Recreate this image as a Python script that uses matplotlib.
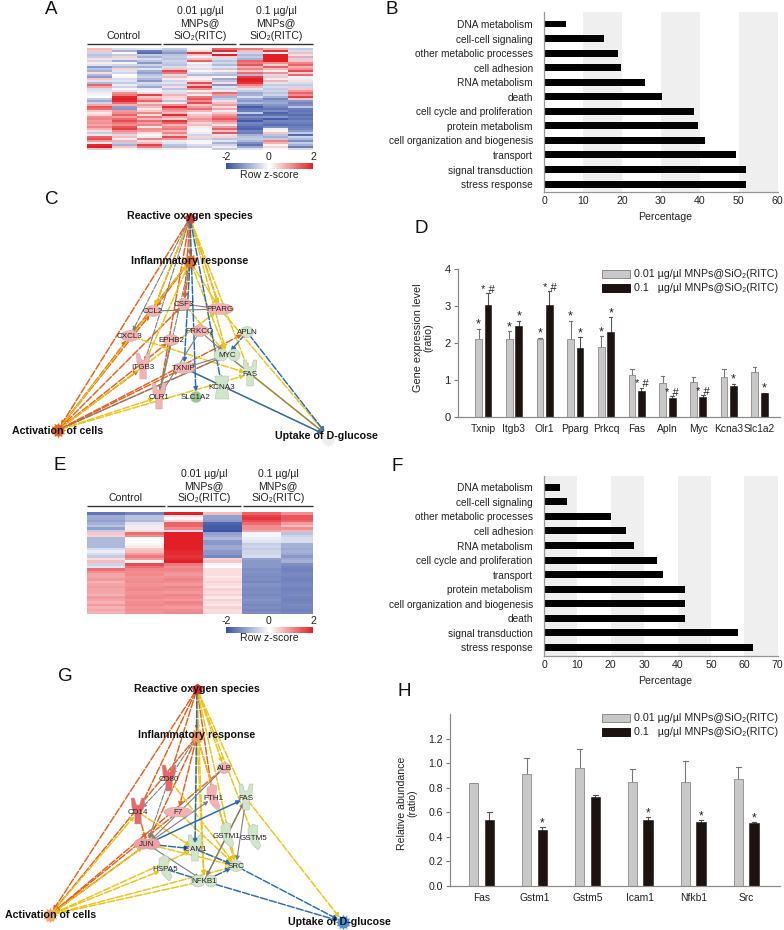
import numpy as np
import matplotlib
matplotlib.use('Agg')
import matplotlib.pyplot as plt
from matplotlib.colors import LinearSegmentedColormap, Normalize
from matplotlib.colorbar import Colorbar
from matplotlib.patches import Ellipse, FancyArrowPatch, Rectangle, Polygon
from matplotlib.path import Path

plt.rcParams['font.family'] = ['Liberation Sans', 'DejaVu Sans']
W, H = 784, 930

# ---------- heat map A (rows top to bottom, one list per sample) ----------
a_c1 = [.6,.5,-.5,-.7,-.6,.3,-.5,.2,-.3,-1.2,-.7,-.9,.3,-.8,-1.2,.5,-.3,-.8,1.4,.8,-.4,-.3,-.2,-.1,0,-.6,-1,-.5,.8,1.5,1.3,.5,.2,.4,1,1.1,.9,1,.8,1.1,.7,.3,-.6,.2,1.4,1.6,.9,.2,1.9,2,.5]
a_c2 = [-.4,-.9,.1,-.6,.4,-.3,-1,-.1,-.5,-.8,.4,-.3,-.5,0,.1,-.4,-.3,-.6,-.2,-.5,.1,-.3,1,1.2,1.9,2,1.9,1.3,.7,-1.1,-1.2,.9,1,1.4,.9,1.3,1.6,1.2,1,1.5,1.7,1,.8,-.4,.6,-.2,.7,-.6,-.9,.5,.1]
a_c3 = [-.3,-1.5,-1.7,-.6,-.9,-.4,-.7,-1.2,-.5,-.9,-.3,-.9,-1.1,-.7,-.5,-.8,-1.2,-.4,-.6,-1,-.2,-.1,.3,1.7,.5,.8,1.4,.4,.9,.6,.2,.5,1.1,.3,1.2,.6,1.3,.9,1.1,.2,1,.9,.3,.1,-.2,1.1,.3,.6,1.7,1.2,-.3]
a_c4 = [-.6,-.9,-1.2,-.7,-.6,-.7,-.5,-.6,-.7,-.4,.5,1.6,1.2,-.4,.6,.2,-.5,-.3,-.6,.3,-.7,-.3,-.4,.7,.4,.3,-.7,.2,1,1.9,1.2,.9,.6,1.9,.8,.4,1.8,1.4,.7,1,1.2,.7,1.1,.5,1.6,.9,.2,-.3,-.7,-.8,.2]
a_c5 = [.1,.3,1.8,.5,-.2,.6,1.4,.1,-.3,.2,-.4,.1,-.4,-.8,.2,-.1,.4,1.6,.6,1.8,1,.1,.7,-.2,1.2,1.5,1,1.6,.5,.9,1.3,.7,-.2,.5,.7,1,.8,.4,.6,.2,-.1,.1,-.2,-.5,.4,-.5,-.1,.1,-.4,-.6,0]
a_c6 = [1.4,1.9,-.2,2,.4,-.4,-.7,-.5,-.8,-.3,-.6,.2,-.6,-.8,.1,-1,-.7,.3,-1.2,-.3,-.5,.2,1.3,.9,-.9,-.6,-.3,.6,.9,.3,.8,-.2,.5,.9,1.2,1.5,1.1,.7,.2,.9,1.4,.5,1.5,-.3,.4,-.7,-.3,-.9,-.5,.2,-.6]
a_c7 = [1.2,.6,-.5,-.8,-.6,-.9,1.4,1.2,1.5,.7,1.1,.5,1.3,-.8,1.7,2,2,1.8,1.1,.7,-.3,-.6,-1,-.9,-.4,-1,-1.2,-.8,-1.4,-1.9,-1.6,-1.5,-.6,-1.7,-1.3,-1.6,-1.9,-1.4,-1.5,-1.7,-1.8,-1.4,-1.5,-.9,-.7,-.6,-.8,-1.3,-1.6,-1,-.3]
a_c8 = [.8,1.8,-.2,2,2,2,2,1,.4,1.4,.6,.2,1,-.4,.5,-.2,.7,-.3,-.6,-.4,-.6,-.5,-.7,-.5,-.9,-1.4,-1.1,-1,-1.2,-1.4,-1.6,-1.3,-1.8,-1.6,-1.2,-1.9,-1.4,-1.5,-1.7,-1.3,-.2,.1,.5,-.7,-.9,-.6,1.1,.7,.1,.4,-.1]
a_c9 = [-.6,-.4,.6,-.3,.8,-.5,.5,1.1,1.4,.7,1,1.6,.4,1.3,-.1,-.2,.3,-.4,-.6,-.5,.5,.9,1.4,1,1.7,.5,-1.2,-1.4,-1.3,-.7,-1.5,-1.6,-1.5,-1.7,-1.5,-1.6,-1.4,-1.5,-1.6,-1.5,-1.4,-1.2,-.6,-1.7,-.5,-.8,-1.3,-.6,-.9,-1.5,-.4]

# ---------- heat map E ----------
e_c1 = [-1.6,-1,-1,-1.1,-.9,-.7,-1.1,-.6,.5,.4,-.8,-.8,-.8,-.8,-.4,-.2,-.4,-.6,.3,.6,-.5,-.3,1.3,1.0,.8,.8,.9,.7,.8,.9,.8,.8,.7,.9,.8,.7,.9,.7,.8,.7]
e_c2 = [-1.4,-.7,-.7,-.8,-.3,.2,-.2,.3,1.3,1.0,.0,0,.1,.2,.5,.6,.9,1.2,.9,.1,1.6,1.3,1.1,1,1.05,.95,1,1.05,.95,1,1.05,.95,1,1.05,.95,1,1.05,.95,1,.95]
e_c3 = [2,.3,-.1,.4,1.4,1.4,1.1,-.4,2,2,2,2,2,2,2,1.9,1.9,1.8,1.9,2,1.2,1,1.1,1,.9,1,1.1,1,.9,1.1,1,.9,1.1,1,.9,1.1,1,.9,1,1.05]
e_c4 = [.6,-1.1,-1.1,-1.2,-1.8,-1.9,-1.9,-2,-1.1,-1,-.8,-1.2,-1.2,-1,-1,-1.2,-1.2,-1.4,.4,.5,-.1,0,.3,.3,.3,.2,.3,.4,.3,.2,.4,.3,.4,.2,.4,.3,.2,.4,.3,.3]
e_c5 = [1.4,1.7,1.8,1.6,1.3,1,1,.8,-.1,-.1,-.2,-.3,-.6,-.5,-.6,-.5,-.5,-.4,-1.1,-1.2,-1.2,-1.2,-1.3,-1.25,-1.3,-1.35,-1.3,-1.4,-1.25,-1.3,-1.35,-1.3,-1.4,-1.3,-1.25,-1.3,-1.4,-1.3,-1.4,-1.3]
e_c6 = [1.0,1.5,1.5,1.4,.9,.6,1,.7,-.7,-.5,-.4,-.4,-.9,-.9,-1,-.9,-1,-1.2,-1,-.9,-1.3,-1.4,-1.45,-1.4,-1.35,-1.4,-1.45,-1.4,-1.35,-1.4,-1.45,-1.4,-1.35,-1.4,-1.45,-1.4,-1.35,-1.4,-1.45,-1.4]

# ---------- bar panels ----------
b_terms = ['DNA metabolism','cell-cell signaling','other metabolic processes','cell adhesion','RNA metabolism','death','cell cycle and proliferation','protein metabolism','cell organization and biogenesis','transport','signal transduction','stress response']
b_vals = [5.7,15.4,19.1,19.8,25.9,30.4,38.4,39.6,41.3,49.4,51.9,51.9]
f_terms = ['DNA metabolism','cell-cell signaling','other metabolic processes','cell adhesion','RNA metabolism','cell cycle and proliferation','transport','protein metabolism','cell organization and biogenesis','death','signal transduction','stress response']
f_vals = [4.8,6.8,20.2,24.6,27,33.7,35.5,42.3,42.3,42.3,58.1,62.5]

d_genes = ['Txnip','Itgb3','Olr1','Pparg','Prkcq','Fas','Apln','Myc','Kcna3','Slc1a2']
d_low = [2.1,2.1,2.1,2.1,1.9,1.13,.92,.95,1.09,1.22]
d_low_top = [2.38,2.32,2.14,2.6,2.18,1.29,1.1,1.07,1.29,1.35]
d_high = [3.03,2.47,3.03,1.87,2.3,.7,.5,.53,.83,.65]
d_high_top = [3.35,2.6,3.4,2.16,2.7,.79,.56,.58,.89,.65]
d_low_sig = ['*','*','*','*','*','','','','','']
d_high_sig = ['*#','*','*#','*','*','*#','*#','*#','*','*']

h_genes = ['Fas','Gstm1','Gstm5','Icam1','Nfkb1','Src']
h_low = [.835,.91,.96,.845,.845,.87]
h_low_top = [.84,1.04,1.115,.95,1.02,.965]
h_high = [.54,.455,.725,.54,.52,.51]
h_high_top = [.6,.48,.74,.565,.535,.525]
h_high_sig = ['','*','','*','*','*']

legend_labels = ['0.01 µg/µl MNPs@SiO₂(RITC)', '0.1   µg/µl MNPs@SiO₂(RITC)']

# ---------- networks ----------
ORG, YEL, BLU, GRY = '#e8601c', '#ecc414', '#2a6cb8', '#7f7f7f'
PINK, RED, GRN = '#f5b1b1', '#e8686a', '#cfe6c8'
c_nodes = {'ROS':(190,218),'INF':(190,261),'ACT':(58,430),'UPT':(328,436),'CSF3':(184,304),'PPARG':(220,309),'CCL2':(153,311),'CXCL3':(130,336),'PRKCQ':(200,331),'EPHB2':(171,340),'APLN':(247,332),'MYC':(227,355),'ITGB3':(143,367),'TXNIP':(184,368),'FAS':(250,374),'KCNA3':(222,387),'OLR1':(159,397),'SLC1A2':(196,397)}
c_org = ['ROS ACT','ROS INF','ROS CSF3','ROS CCL2','ROS PPARG','ROS OLR1','INF CXCL3','INF CCL2','INF CSF3','ACT CCL2','ACT CXCL3','ACT CSF3','ACT EPHB2','ACT MYC','ACT APLN','ACT TXNIP','ACT ITGB3']
c_yel = ['ROS CCL2','ROS PPARG','ROS FAS','ROS MYC','INF ITGB3','INF PPARG','INF MYC','ACT INF','ACT PPARG','ACT FAS','ACT OLR1','CXCL3 FAS','CSF3 MYC','TXNIP UPT','MYC UPT','PPARG UPT','FAS UPT']
c_blu = ['ROS SLC1A2','ROS KCNA3','APLN UPT','APLN MYC','INF TXNIP']
c_blu_solid = ['TXNIP UPT']
c_gry = ['ROS CXCL3','ROS ITGB3','INF OLR1','ACT MYC']
c_gry_solid = ['CCL2 PPARG','CSF3 PPARG','EPHB2 OLR1','PRKCQ OLR1','MYC TXNIP','MYC UPT','PRKCQ MYC']

g_nodes = {'ROS':(197,689),'INF':(197,736),'ACT':(50,915),'UPT':(343,922),'ALB':(224,768),'CD80':(169,779),'FTH1':(213,798),'FAS':(246,798),'CD14':(138,812),'F7':(178,812),'GSTM1':(227,836),'GSTM5':(254,838),'JUN':(147,844),'ICAM1':(195,849),'SRC':(236,866),'HSPA5':(165,869),'NFKB1':(204,881)}
g_org = ['ROS ACT','ROS INF','ROS CD80','ROS CD14','ROS FTH1','INF JUN','INF ACT','INF F7','INF GSTM1','JUN ACT','CD14 JUN','F7 ACT','ALB ACT']
g_yel = ['ROS NFKB1','ROS ALB','ROS SRC','ROS GSTM5','ROS FAS','INF SRC','INF ICAM1','INF NFKB1','ACT JUN','ACT NFKB1','ACT ICAM1','ACT SRC','ACT HSPA5','ACT CD14','CD80 SRC','CD14 ICAM1','FAS UPT','JUN SRC','F7 SRC','FAS NFKB1','ICAM1 SRC']
g_blu = ['ROS ICAM1','NFKB1 UPT','SRC UPT','NFKB1 SRC','HSPA5 NFKB1','JUN ICAM1','ICAM1 SRC']
g_blu_solid = ['JUN FAS']
g_gry = ['INF CD80','CD80 CD14','CD80 JUN']
g_gry_solid = ['ALB JUN','JUN FTH1','JUN NFKB1','FAS NFKB1','FAS SRC','NFKB1 FAS']

c_look = {'CSF3':('e',PINK,14),'PPARG':('e',PINK,27),'CCL2':('e',PINK,16),'CXCL3':('e',PINK,18),'PRKCQ':('e',PINK,18),'EPHB2':('e',PINK,16),'APLN':('e',GRN,13),'MYC':('n',GRN,0),'ITGB3':('y',PINK,0),'TXNIP':('e',PINK,22),'FAS':('y',GRN,0),'KCNA3':('k',GRN,0),'OLR1':('y',PINK,0),'SLC1A2':('e','#98c68f',11)}
g_look = {'ALB':('e',PINK,13),'CD80':('y',RED,0),'FTH1':('c',PINK,0),'FAS':('y',GRN,0),'CD14':('y',RED,0),'F7':('w',PINK,0),'GSTM1':('c',GRN,0),'GSTM5':('c',GRN,0),'JUN':('j','#f0a0a0',0),'ICAM1':('y',GRN,0),'SRC':('e',GRN,15),'HSPA5':('c',GRN,0),'NFKB1':('n',GRN,0)}
GEAR = Path.unit_regular_star(12, innerCircle=0.72)

fig = plt.figure(figsize=(W/100, H/100), dpi=100)


def box(x0, y0, x1, y1, **kw):
    return fig.add_axes([x0/W, 1-y1/H, (x1-x0)/W, (y1-y0)/H], **kw)


over = fig.add_axes([0, 0, 1, 1], zorder=5)
over.set_xlim(0, W); over.set_ylim(H, 0); over.axis('off'); over.patch.set_alpha(0)

hm_cmap = LinearSegmentedColormap.from_list('rz', ['#3a53a4', '#ffffff', '#e21f26'])
hm_norm = Normalize(-2, 2)


def heat(cols, edges, y0, y1):
    m = np.array(cols).T
    ax = box(edges[0], y0, edges[-1], y1)
    ax.pcolormesh(edges, np.arange(m.shape[0]+1), m, cmap=hm_cmap, norm=hm_norm, rasterized=True)
    ax.set_ylim(m.shape[0], 0)
    ax.axis('off')


def heat_head(spans, ctrl_x, x1, x2, line_y, ys):
    for a, b in spans:
        over.plot([a, b], [line_y, line_y], color='#333333', lw=1.0, solid_capstyle='butt')
    over.text(ctrl_x, ys[2], 'Control', ha='center', va='center', fontsize=7.6, color='#222222')
    for x, t in ((x1, '0.01 µg/µl'), (x2, '0.1 µg/µl')):
        for y, s in zip(ys, (t, 'MNPs@', 'SiO₂(RITC)')):
            over.text(x, y, s, ha='center', va='center', fontsize=7.6, color='#222222')


def cbar(y0, y1, ylab, yrow):
    cax = box(226, y0, 313, y1)
    cb = Colorbar(cax, cmap=hm_cmap, norm=hm_norm, orientation='horizontal')
    cb.set_ticks([]); cb.outline.set_visible(False)
    for x, s in ((226, '-2'), (269, '0'), (313, '2')):
        over.text(x, ylab, s, ha='center', va='center', fontsize=7.6, color='#222222')
    over.text(269, yrow, 'Row z-score', ha='center', va='center', fontsize=7.6, color='#222222')


heat([a_c1, a_c2, a_c3, a_c4, a_c5, a_c6, a_c7, a_c8, a_c9], [87,111.5,136.5,162,187,212,237,263,288,313], 48, 150)
heat_head([(87,161),(163,236),(239,313)], 124, 200, 276, 44, (11,23,36))
cbar(163, 169.5, 157, 175)
heat([e_c1, e_c2, e_c3, e_c4, e_c5, e_c6], [87,125,164,203,242,281,313], 512, 614)
heat_head([(87,165),(167,241),(243,313)], 126, 204, 278, 506, (474,486,498))
cbar(627, 633, 621, 638)


def hbars(terms, vals, xmax, bands, top, bottom, first):
    ax = box(544, top, 777.7, bottom)
    spacing = 14.55
    ax.set_ylim((bottom-first)/spacing, (top-first)/spacing)
    ax.set_xlim(0, xmax)
    for a, b in bands:
        ax.axvspan(a, b, color='#efefef', lw=0, zorder=0)
    y = np.arange(len(terms))
    ax.barh(y, vals, height=0.48, color='black', zorder=2)
    ax.set_yticks(y); ax.set_yticklabels(terms, fontsize=7.3, color='#222222')
    ax.tick_params(axis='y', length=0, pad=8)
    ax.set_xticks(np.arange(0, xmax+1, 10))
    ax.tick_params(axis='x', length=0, pad=3, labelsize=7.6, labelcolor='#222222')
    for s in ('top', 'right'):
        ax.spines[s].set_visible(False)
    for s in ('left', 'bottom'):
        ax.spines[s].set_color('#9a9494'); ax.spines[s].set_linewidth(0.9)
    ax.patch.set_alpha(0)
    over.text(665, bottom+25, 'Percentage', ha='center', va='center', fontsize=7.6, color='#222222')


hbars(b_terms, b_vals, 60, [(10,20),(30,40),(50,60)], 12, 192, 24)
hbars(f_terms, f_vals, 70, [(0,10),(20,30),(40,50),(60,70)], 476, 655.7, 487.3)


def legend(y1, y2):
    over.add_patch(Rectangle((601.7, y1-4), 28, 8, fc='#c8c8c8', ec='#8f8a86', lw=0.7))
    over.add_patch(Rectangle((601.7, y2-4), 28, 8, fc='#1c1210', ec='#1c1210', lw=0.7))
    over.text(634, y1, legend_labels[0], va='center', fontsize=7.7, color='#222222')
    over.text(634, y2, legend_labels[1], va='center', fontsize=7.7, color='#222222')


def vbars(ax, genes, low, low_top, high, high_top, w, off):
    x = np.arange(len(genes))
    ax.bar(x-off, low, w, color='#c8c8c8', edgecolor='#8f8a86', lw=0.6, zorder=2)
    ax.bar(x+off, high, w, color='#1c1210', edgecolor='#1c1210', lw=0.4, zorder=2)
    for xi, l, lt, h, ht in zip(x, low, low_top, high, high_top):
        ax.plot([xi-off, xi-off], [l, lt], color='#777777', lw=0.8, zorder=1)
        ax.plot([xi-off-w/4, xi-off+w/4], [lt, lt], color='#777777', lw=0.8, zorder=1)
        ax.plot([xi+off, xi+off], [h, ht], color='#555555', lw=0.8, zorder=1)
        ax.plot([xi+off-w/4, xi+off+w/4], [ht, ht], color='#555555', lw=0.8, zorder=1)
    ax.set_xticks(x); ax.set_xticklabels(genes, fontsize=7.4, color='#222222')
    ax.tick_params(axis='x', length=0, pad=5)
    ax.tick_params(axis='y', length=3, width=0.8, color='#777777', pad=2, labelsize=8, labelcolor='#222222')
    for s in ('top', 'right'):
        ax.spines[s].set_visible(False)
    for s in ('left', 'bottom'):
        ax.spines[s].set_color('#8f8a86'); ax.spines[s].set_linewidth(0.9)
    ax.patch.set_alpha(0)


ax = box(457.7, 269.3, 780, 416.7)
ax.set_xlim(-0.835, 9.67); ax.set_ylim(0, 4); ax.set_yticks([0,1,2,3,4])
vbars(ax, d_genes, d_low, d_low_top, d_high, d_high_top, 0.22, 0.155)
for i in range(len(d_genes)):
    if d_low_sig[i]:
        ax.text(i-0.155, d_low_top[i]-0.05, d_low_sig[i], ha='center', va='bottom', fontsize=9, color='#222222')
    ax.text(i+0.155, d_high_top[i]-0.05, d_high_sig[i].replace('*#', '* #'), ha='center', va='bottom', fontsize=9 if d_high_sig[i] == '*' else 8, color='#222222')
over.text(423, 338, 'Gene expression level\n(ratio)', rotation=90, ha='center', va='center', fontsize=7.8, color='#222222', linespacing=1.1)
legend(274, 288)

ax = box(450, 714, 780, 886)
ax.set_xlim(-0.595, 5.64); ax.set_ylim(0, 1.4); ax.set_yticks([0,.2,.4,.6,.8,1.0,1.2])
ax.set_yticklabels(['0.0','0.2','0.4','0.6','0.8','1.0','1.2'])
vbars(ax, h_genes, h_low, h_low_top, h_high, h_high_top, 0.176, 0.148)
ax.tick_params(axis='y', labelsize=7.6)
for i in range(len(h_genes)):
    if h_high_sig[i]:
        ax.text(i+0.148, h_high_top[i]-0.02, h_high_sig[i], ha='center', va='bottom', fontsize=8.5, color='#222222')
over.text(407, 803, 'Relative abundance\n(ratio)', rotation=90, ha='center', va='center', fontsize=7.6, color='#222222', linespacing=1.1)
legend(718, 732)


def link(nodes, names, color, dashed=True, lw=1.05):
    for pair in names:
        a, b = pair.split()
        st = (0, (5, 1.4)) if dashed else '-'
        over.add_patch(FancyArrowPatch(nodes[a], nodes[b], arrowstyle='-|>', mutation_scale=6, color=color, lw=lw,
                                       linestyle=st, shrinkA=2, shrinkB=4, zorder=1))


def drawnode(name, xy, look):
    x, y = xy
    kind, col, size = look
    ec = '#b0b0b0'
    if kind == 'e':
        over.add_patch(Ellipse(xy, size, 11, fc=col, ec=ec, lw=0.3, zorder=2))
    elif kind == 'j':
        over.add_patch(Ellipse((x-5, y), 16, 11, fc=col, ec=ec, lw=0.3, zorder=2))
        over.add_patch(Ellipse((x+5, y), 16, 11, fc=col, ec=ec, lw=0.3, zorder=2))
    elif kind == 'n':
        over.add_patch(Ellipse((x-6, y), 14, 12, fc=col, ec=ec, lw=0.3, zorder=2))
        over.add_patch(Ellipse((x+7, y), 12, 12, fc=col, ec=ec, lw=0.3, zorder=2))
    elif kind == 'y':
        over.add_patch(Polygon([(x-7, y-14), (x-3.5, y-14), (x-1.5, y-7), (x+1.5, y-7), (x+3.5, y-14), (x+7, y-14), (x+6, y-4),
                                (x+3.2, y+1), (x+3.2, y+12), (x-3.2, y+12), (x-3.2, y+1), (x-6, y-4)], closed=True, fc=col, ec=ec, lw=0.3, zorder=2))
    elif kind == 'k':
        over.add_patch(Polygon([(x-7, y-11), (x+7, y-11), (x+5, y), (x+7, y+12), (x-7, y+12), (x-5, y)], closed=True, fc=col, ec=ec, lw=0.3, zorder=2))
    elif kind == 'c':
        over.add_patch(Polygon([(x-1, y-14), (x+4, y-12), (x+3, y-2), (x+7, y+8), (x+4, y+12), (x-2, y+6), (x-6, y-3), (x-6, y-10)],
                               closed=True, fc=col, ec=ec, lw=0.3, zorder=2))
    elif kind == 'w':
        over.add_patch(Ellipse(xy, 28, 10, fc=col, ec=ec, lw=0.3, zorder=2))
    over.text(x, y, name, ha='center', va='center', fontsize=5.8, color='#222222', zorder=4)


def hub(xy, color, kind='gear'):
    if kind == 'gear':
        over.scatter([xy[0]], [xy[1]], s=120, marker=GEAR, color=color, zorder=3, lw=0)
    else:
        over.scatter([xy[0]], [xy[1]], s=70, marker='p', color=color, zorder=3, lw=0)


def fn_label(x, y, s):
    over.text(x, y, s, ha='center', va='center', fontsize=7.7, fontweight='bold', color='#111111', zorder=6)


# panel C
link(c_nodes, c_org, ORG); link(c_nodes, c_yel, YEL); link(c_nodes, c_blu, BLU)
link(c_nodes, c_gry, GRY, lw=0.8); link(c_nodes, c_gry_solid, GRY, dashed=False, lw=0.8)
link(c_nodes, c_blu_solid, BLU, dashed=False)
for n, lk in c_look.items():
    drawnode(n, c_nodes[n], lk)
hub(c_nodes['ROS'], '#d6403a', 'p'); hub(c_nodes['INF'], '#e0702a'); hub(c_nodes['ACT'], '#e8671d')
hub((328, 439), '#eeeeee')
fn_label(190, 216, 'Reactive oxygen species')
fn_label(190, 261, 'Inflammatory response')
fn_label(58, 431, 'Activation of cells')
fn_label(326, 436, 'Uptake of D-glucose')

# panel G
link(g_nodes, g_org, ORG); link(g_nodes, g_yel, YEL); link(g_nodes, g_blu, BLU)
link(g_nodes, g_gry, GRY, lw=0.8); link(g_nodes, g_gry_solid, GRY, dashed=False, lw=0.8)
link(g_nodes, g_blu_solid, BLU, dashed=False, lw=1.1)
for n, lk in g_look.items():
    drawnode(n, g_nodes[n], lk)
hub(g_nodes['ROS'], '#dc2e2e', 'p'); hub(g_nodes['INF'], '#ee9a55'); hub(g_nodes['ACT'], '#f0a870'); hub(g_nodes['UPT'], '#4a8fd0')
fn_label(197, 689, 'Reactive oxygen species')
fn_label(197, 735, 'Inflammatory response')
fn_label(51, 915, 'Activation of cells')
fn_label(339, 922, 'Uptake of D-glucose')

# panel letters
for s, x, y in [('A',51,10),('B',392,10),('C',52,199),('D',421,228),('E',60,465),('F',397,466),('G',65,676),('H',404,691)]:
    over.text(x, y, s, ha='center', va='center', fontsize=13.5, color='#111111')

fig.savefig('out.png', dpi=100)
